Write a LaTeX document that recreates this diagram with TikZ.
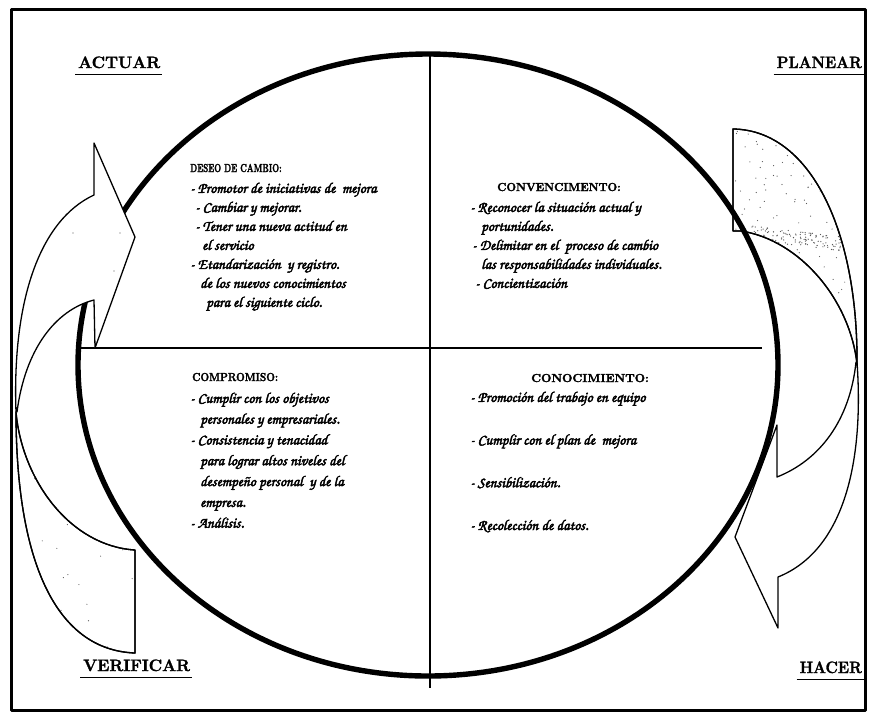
\documentclass[tikz,border=0pt]{standalone}
\usepackage[T1,TU]{fontenc}
\usetikzlibrary{calc}
% calligraphic hand for the item lists (Zapf Chancery, T1 encoding)
\newcommand\handfont{\fontencoding{T1}\fontfamily{pzc}\fontseries{m}\fontshape{it}\selectfont}
\newcommand\capsfont{\fontencoding{TU}\fontfamily{lmr}\bfseries}
% heavier ink: fill and stroke the glyph outlines
\newcommand\inkon[1]{\special{pdf:literal direct 2 Tr #1 w}}
\newcommand\inkoff{\special{pdf:literal direct 0 Tr}}
% outlines of the two curved arrows
\newcommand\rtail{(733,129) .. controls (810,130) and (858,230) .. (857,364) .. controls (850,300) and (800,240) .. (741,231) -- (733,231) -- cycle}
\newcommand\rhead{(856,362) .. controls (850,420) and (820,460) .. (777,477) -- (777,425) -- (735,537) -- (778,628) -- (778,577) .. controls (845,550) and (864,460) .. (857,362) -- cycle}
\newcommand\ltail{(135,653) .. controls (55,650) and (16,560) .. (16,412) .. controls (22,480) and (70,546) .. (135,550) -- cycle}
\newcommand\lhead{(17,412) .. controls (25,350) and (55,310) .. (94,300) -- (95,348) -- (135,237) -- (94,143) -- (94,195) .. controls (40,220) and (12,300) .. (16,412) -- cycle}
\begin{document}
\begin{tikzpicture}[x=1pt,y=-1pt,line join=round,
  frame/.style={line width=3pt},
  rim/.style={line width=5.4pt},
  axis/.style={line width=2.6pt},
  band/.style={line width=1.3pt,fill=white},
  dotc/.style={fill=black!65},
  uline/.style={line width=1.4pt},
  lbl/.style={font=\capsfont\fontsize{16.5}{18}\selectfont,inner sep=0pt,anchor=base west},
  head/.style={font=\capsfont\fontsize{11.6}{13}\selectfont,inner sep=0pt,anchor=base west},
  body/.style={font=\handfont\fontsize{15}{19}\selectfont,inner sep=0pt,anchor=north west,align=left},
]
\useasboundingbox (0,0) rectangle (869,713);
\fill[white] (0,0) rectangle (869,713);
\draw[frame] (11,9) rectangle (865,710);

% right arrow: stippled tail, then the twisted white part with its head
\draw[band] \rtail;
\begin{scope}
  \clip \rtail;
  \pgfmathsetseed{11}
  \foreach \k in {1,...,170}{
    \pgfmathsetmacro\dx{735+125*rnd}
    \pgfmathsetmacro\dy{130+235*rnd}
    \fill[dotc] (\dx,\dy) circle (0.6);
  }
  \foreach \k in {1,...,110}{
    \pgfmathsetmacro\dx{752+95*rnd}
    \pgfmathsetmacro\dy{226+0.12*(\dx-752)+14*rnd}
    \fill[dotc] (\dx,\dy) circle (0.65);
  }
\end{scope}
\draw[band,fill=none] \rtail;
\draw[band] \rhead;

% the oval and its two axes
\draw[rim] (428,365) ellipse [x radius=350, y radius=311];
\draw[axis] (430,54) -- (430,688);
\draw[axis] (79,348) -- (762,348);

% left arrow
\draw[band] \ltail;
\begin{scope}
  \clip \ltail;
  \pgfmathsetseed{5}
  \foreach \k in {1,...,35}{
    \pgfmathsetmacro\dx{18+115*rnd}
    \pgfmathsetmacro\dy{420+230*rnd}
    \fill[dotc] (\dx,\dy) circle (0.55);
  }
\end{scope}
\draw[band,fill=none] \ltail;
\draw[band] \lhead;
\fill[dotc] (73,233) circle (0.55) (120,233) circle (0.55) (114,271) circle (0.55);

% corner labels
\node[lbl] (actuar) at (78,68) {\inkon{0.3}ACTUAR\inkoff};
\node[lbl,anchor=base east] (planear) at (862,68) {\inkon{0.3}\scalebox{0.92}[1]{PLANEAR}\inkoff};
\node[lbl] (verificar) at (83,671) {\inkon{0.3}VERIFICAR\inkoff};
\node[lbl,anchor=base east] (hacer) at (862,673) {\inkon{0.3}\scalebox{0.92}[1]{HACER}\inkoff};
\foreach \n in {actuar,planear,verificar,hacer}
  \draw[uline] ($(\n.south west)+(-3,6)$) -- ($(\n.south east)+(2,6)$);

% quadrant headings
\node[head] (hdeseo) at (190,172) {\inkon{0.3}\scalebox{0.7}[1]{DESEO DE CAMBIO:}\inkoff};
\node[head] (hconv) at (497,191) {\inkon{0.3}\scalebox{0.98}[1]{CONVENCIMENTO:}\inkoff};
\node[head] (hcomp) at (192,381) {\inkon{0.3}\scalebox{0.88}[1]{COMPROMISO:}\inkoff};
\node[head] (hcono) at (531,382) {\inkon{0.3}\scalebox{1.05}[1]{CONOCIMIENTO:}\inkoff};

% quadrant item lists
\node[body] (tdeseo) at (190,182) {\inkon{0.45}\rule{0pt}{10pt}- Promotor de iniciativas de\ \ mejora\\
\hspace*{5pt}- Cambiar y mejorar.\\
\hspace*{5pt}- Tener una nueva actitud en\\
\hspace*{12pt}el servicio\\
- Etandarización\ \ y registro.\\
\hspace*{10pt}de los nuevos conocimientos\\
\hspace*{16pt}para el siguiente ciclo.\inkoff};

\node[body] (tconv) at (470,201) {\inkon{0.45}\rule{0pt}{10pt}- Reconocer la situación actual y\\
\hspace*{11pt}portunidades.\\
\hspace*{2pt}- Delimitar en el\ \ proceso de cambio\\
\hspace*{11pt}las responsabilidades individuales.\\
\hspace*{5pt}- Concientización\inkoff};

\node[body,font=\handfont\fontsize{15}{20.8}\selectfont] (tcomp) at (190,392) {\inkon{0.45}\rule{0pt}{10pt}- Cumplir con los objetivos\\
\hspace*{10pt}personales y empresariales.\\
- Consistencia y tenacidad\\
\hspace*{10pt}para lograr altos niveles del\\
\hspace*{10pt}desempeño personal\ \ y de la\\
\hspace*{10pt}empresa.\\
- Análisis.\inkoff};

\node[body,font=\handfont\fontsize{15}{42.7}\selectfont] (tcono) at (470,391) {\inkon{0.45}\rule{0pt}{10pt}- Promoción del trabajo en equipo\\
- Cumplir con el plan de\ \ mejora\\
- Sensibilización.\\
- Recolección de datos.\inkoff};
\end{tikzpicture}
\end{document}
